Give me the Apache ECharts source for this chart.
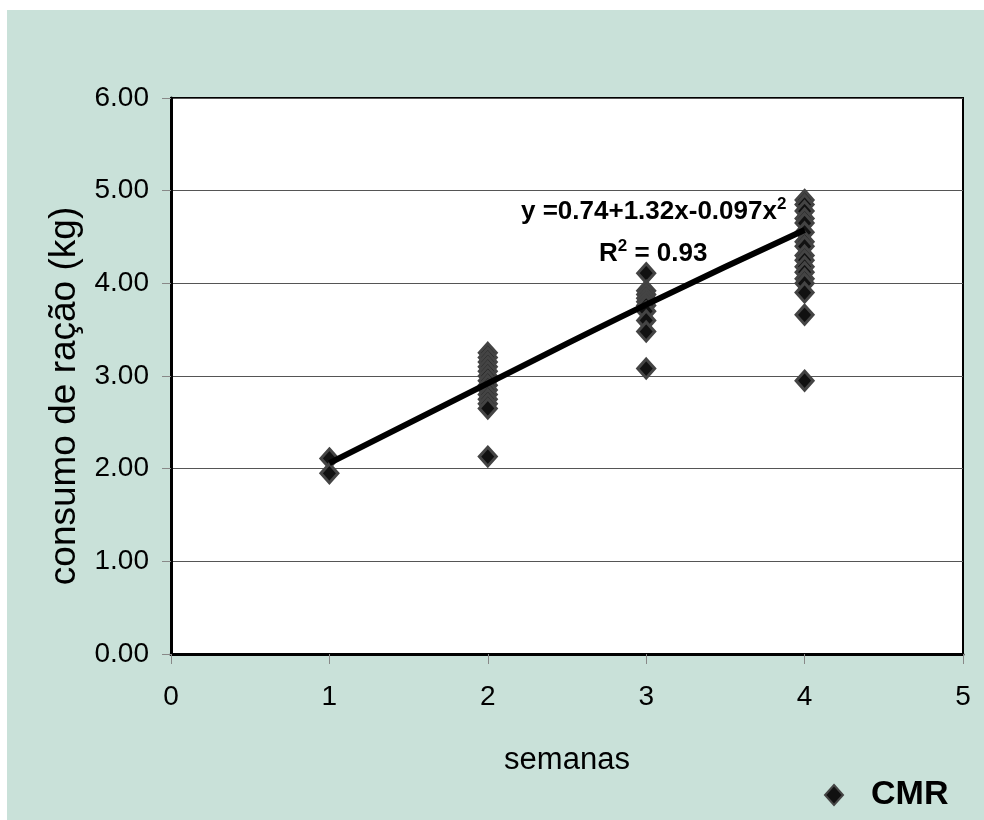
<!DOCTYPE html>
<html lang="pt">
<head>
    <meta charset="UTF-8">
    <title>Consumo de ração - CMR</title>
    <script src="https://cdn.jsdelivr.net/npm/echarts@6.0.0/dist/echarts.min.js"></script>
    <style>
        body {
            margin: 0;
            background-color: #fff;
            font-family: "Liberation Sans", Arial, sans-serif;
        }
        #chart {
            position: absolute;
            left: 7px;
            top: 10px;
            width: 977px;
            height: 810px;
            background-color: #c9e1d9;
        }
    </style>
</head>
<body>
    <div id="chart"></div>

    <script>
        // values, one array per week
        const week1 = [2.11, 1.95];
        const week2 = [3.25, 3.20, 3.15, 3.10, 3.05, 3.00, 2.95, 2.90, 2.85, 2.80, 2.75, 2.70, 2.65, 2.13];
        const week3 = [4.11, 3.92, 3.88, 3.84, 3.80, 3.76, 3.70, 3.60, 3.48, 3.08];
        const week4 = [4.90, 4.85, 4.78, 4.70, 4.65, 4.55, 4.45, 4.40, 4.30, 4.25, 4.18, 4.12, 4.05, 4.00, 3.90, 3.66, 2.95];

        // fitted curve as drawn in the picture
        const trendX = [1, 2, 3, 4];
        const trendY = [2.06, 2.92, 3.77, 4.575];

        const xTicks = [0, 1, 2, 3, 4, 5];
        const yTicks = [0, 1, 2, 3, 4, 5, 6];

        const weeks = [week1, week2, week3, week4];
        const cmrData = [];
        weeks.forEach((vals, i) => {
            vals.forEach(v => cmrData.push([i + 1, v]));
        });
        const trendData = trendX.map((x, i) => [x, trendY[i]]);

        const font = '"Liberation Sans", Arial, sans-serif';
        const chart = echarts.init(document.getElementById('chart'));

        const richEq = {
            a: { fontSize: 26, fontWeight: 'bold', fontFamily: font, fill: '#000', lineHeight: 32 },
            s: { fontSize: 17, fontWeight: 'bold', fontFamily: font, fill: '#000', verticalAlign: 'top', lineHeight: 32 }
        };

        const option = {
            animation: false,
            textStyle: { fontFamily: font },
            grid: {
                left: 164,
                top: 88,
                width: 792,
                height: 556,
                show: true,
                backgroundColor: '#fff',
                borderColor: '#000',
                borderWidth: 2
            },
            legend: {
                data: ['CMR'],
                left: 812,
                top: 763,
                icon: 'diamond',
                itemWidth: 18,
                itemHeight: 20,
                textStyle: {
                    fontFamily: font,
                    fontSize: 34,
                    fontWeight: 'bold',
                    color: '#000',
                    padding: [0, 0, 0, 23]
                }
            },
            xAxis: {
                type: 'value',
                min: xTicks[0],
                max: xTicks[xTicks.length - 1],
                interval: 1,
                name: 'semanas',
                nameLocation: 'middle',
                nameGap: 91,
                nameTextStyle: { fontSize: 31, color: '#000', fontFamily: font },
                axisLine: { lineStyle: { color: '#000', width: 3 } },
                axisTick: { show: true, length: 10, lineStyle: { color: '#888', width: 1 } },
                axisLabel: { fontSize: 28, color: '#000', margin: 29, fontFamily: font },
                splitLine: { show: false }
            },
            yAxis: {
                type: 'value',
                min: yTicks[0],
                max: yTicks[yTicks.length - 1],
                interval: 1,
                name: 'consumo de ração (kg)',
                nameLocation: 'middle',
                nameGap: 80,
                nameTextStyle: {
                    fontSize: 37,
                    color: '#000',
                    fontFamily: font,
                    padding: [0, 40, 0, 0]
                },
                axisLine: { lineStyle: { color: '#000', width: 3 } },
                axisTick: { show: true, length: 9, lineStyle: { color: '#888', width: 1 } },
                axisLabel: {
                    fontSize: 28,
                    color: '#000',
                    margin: 22,
                    fontFamily: font,
                    formatter: v => v.toFixed(2)
                },
                splitLine: { show: true, lineStyle: { color: '#555', width: 1 } }
            },
            graphic: [
                {
                    type: 'text',
                    left: 514,
                    top: 186,
                    z: 100,
                    style: { text: '{a|y =0.74+1.32x-0.097x}{s|2}', rich: richEq }
                },
                {
                    type: 'text',
                    left: 592,
                    top: 228,
                    z: 100,
                    style: { text: '{a|R}{s|2}{a| = 0.93}', rich: richEq }
                }
            ],
            series: [
                {
                    name: 'CMR',
                    type: 'scatter',
                    symbol: 'diamond',
                    symbolSize: [17, 19],
                    itemStyle: {
                        color: '#111',
                        borderColor: '#444',
                        borderWidth: 3,
                        opacity: 1
                    },
                    data: cmrData,
                    z: 2
                },
                {
                    name: 'trend',
                    type: 'line',
                    showSymbol: false,
                    symbol: 'none',
                    smooth: true,
                    lineStyle: { color: '#000', width: 6 },
                    data: trendData,
                    z: 5
                }
            ]
        };

        chart.setOption(option);
    </script>
</body>
</html>
